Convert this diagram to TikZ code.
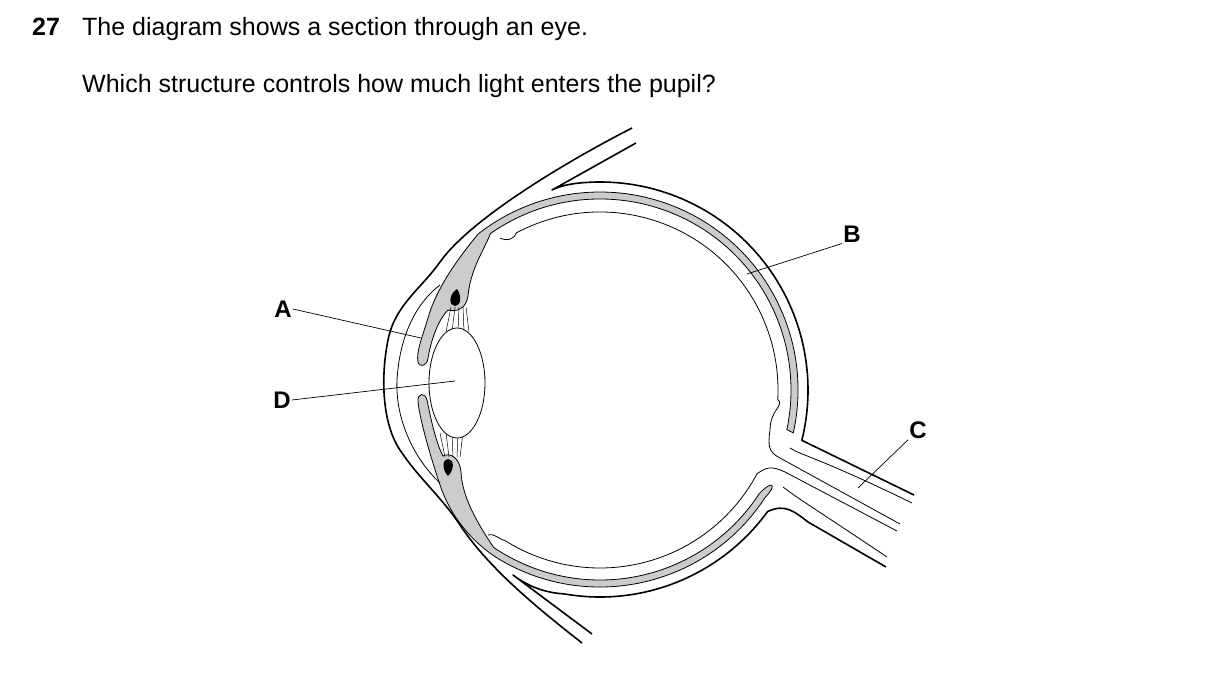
\documentclass[tikz,border=0pt]{standalone}
\usepackage{fontspec}
\setmainfont{Liberation Sans}
\usetikzlibrary{calc}
\begin{document}
\begin{tikzpicture}[x=1pt,y=-1pt,
  thick line/.style={line width=1.6pt,line join=round},
  thin line/.style={line width=0.8pt,line join=round},
  gray band/.style={fill=black!20,draw=black,line width=0.8pt},
  lab/.style={font=\fontsize{24}{28}\selectfont\bfseries,inner sep=1pt},
  txt/.style={font=\fontsize{25}{30}\selectfont,anchor=base west,inner sep=0pt},
  leader/.style={line width=0.7pt}]
\useasboundingbox (0,0) rectangle (1209,698);
\coordinate (c) at (600,390);
% texts
\node[txt,font=\fontsize{25}{30}\selectfont\bfseries] (num) at (32,36) {27};
\node[txt] (t1) at (82,36) {The diagram shows a section through an eye.};
\node[txt] (t2) at (82,93) {Which structure controls how much light enters the pupil?};
% gray top band (choroid + ciliary + iris)
\path[gray band] ($(c)+(12.5:198)$) arc[start angle=12.5,end angle=-128,radius=198]
  .. controls (455,262) and (436,290) .. (428,318)
  .. controls (422,338) and (416,352) .. (418,362)
  .. controls (420,368) and (427,366) .. (428,358)
  .. controls (432,335) and (440,318) .. (448,310)
  .. controls (455,312) and (466,310) .. (468,296)
  .. controls (470,270) and (485,248) .. ($(c)+(-125:191)$)
  arc[start angle=-125,end angle=12,radius=191] -- cycle;
% gray bottom band
\path[gray band] ($(c)+(33:197)$) arc[start angle=33,end angle=122,radius=197]
  .. controls (470,540) and (450,515) .. (440,485)
  .. controls (430,455) and (420,420) .. (418,402)
  .. controls (417,393) and (425,392) .. (427,400)
  .. controls (432,425) and (437,445) .. (443,456)
  .. controls (450,452) and (460,458) .. (461,472)
  .. controls (462,495) and (475,520) .. ($(c)+(124:190)$)
  arc[start angle=124,end angle=33,radius=190]
  .. controls (772,480) and (778,484) .. cycle;
% ciliary teardrops
\fill (457,289) .. controls (448,295) and (449,306) .. (455,306) .. controls (461,306) and (462,296) .. (457,289) -- cycle;
\fill (448,476) .. controls (442,470) and (442,459) .. (448,459) .. controls (454,459) and (455,469) .. (448,476) -- cycle;
% suspensory ligaments
\foreach \a/\b in {451/446,455/452,459/458,463/464,466/469}{
  \draw[line width=0.5pt] (\a,307) -- (\b,332);
  \draw[line width=0.5pt] (\a-6,457) -- (\b-6,433);}
% lens
\draw[thin line,fill=white] (457,383) ellipse[x radius=28,y radius=55];
% sclera outer with optic nerve
\draw[thick line] (636,143) -- (552,190) .. controls (560,186) and (570,184) .. ($(c)+(-96:208)$)
  arc[start angle=-96,end angle=14,radius=208] -- (914,495);
\draw[thick line] (592,634) -- (513,575) .. controls (530,588) and (548,593) .. ($(c)+(100:207)$)
  arc[start angle=100,end angle=36,radius=207] .. controls (785,503) and (795,512) .. (808,522) -- (886,567);
% outer eyelid / cornea outline
\draw[thick line] (632,128) .. controls (560,165) and (470,220) .. (440,262)
  .. controls (420,290) and (395,305) .. (388,340)
  .. controls (380,380) and (383,425) .. (400,450)
  .. controls (420,480) and (440,495) .. (460,525)
  .. controls (490,570) and (540,610) .. (582,643);
% cornea inner line
\draw[thin line] (440,285) .. controls (420,300) and (400,330) .. (397,380)
  .. controls (395,420) and (415,460) .. (440,483);
% retina
\draw[thin line] (500,238) .. controls (508,242) and (515,238) .. ($(c)+(-118:178)$)
  arc[start angle=-118,end angle=3,radius=178]
  .. controls (785,405) and (770,410) .. (770,430)
  .. controls (768,445) and (768,452) .. (780,458) -- (900,524);
\draw[thin line] (897,531) -- (785,472) .. controls (770,465) and (766,468) .. ($(c)+(28:178)$)
  arc[start angle=28,end angle=122,radius=178]
  .. controls (500,540) and (495,533) .. (488,535);
% nerve inner lines
\draw[thin line] (790,448) .. controls (800,455) and (820,458) .. (912,503);
\draw[thin line] (783,487) .. controls (800,500) and (820,512) .. (887,557);
% labels
\node[lab] (A) at (283,309) {A};
\node[lab] (D) at (282,400) {D};
\node[lab] (B) at (852,234) {B};
\node[lab] (C) at (918,430) {C};
\coordinate (a1) at (421,338);
\coordinate (d1) at (455,381);
\coordinate (b1) at (747,274);
\coordinate (c1) at (858,488);
\draw[leader] (A.east) -- (a1);
\draw[leader] (D.east) -- (d1);
\draw[leader] (B.south west) -- (b1);
\draw[leader] (C.south west) -- (c1);
\end{tikzpicture}
\end{document}
